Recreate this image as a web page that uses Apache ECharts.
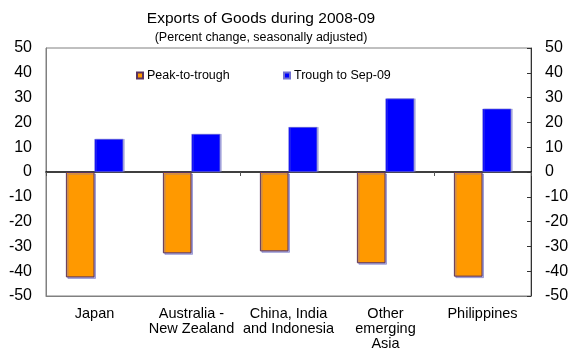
<!DOCTYPE html>
<html><head><meta charset="utf-8">
<script src="https://cdn.jsdelivr.net/npm/echarts@6/dist/echarts.min.js"></script>
<style>html,body{margin:0;padding:0;background:#fff}#c{width:572px;height:360px}</style>
</head><body><div id="c"></div>
<script>
const categories = ['Japan', 'Australia -\nNew Zealand', 'China, India\nand Indonesia', 'Other\nemerging\nAsia', 'Philippines'];
const peakToTrough = [-42.5, -32.8, -32.0, -36.8, -42.2];
const troughToSep09 = [13.3, 15.3, 18.1, 29.6, 25.5];
const yMin = -50, yMax = 50, yStep = 10;

const FONT = 'Liberation Sans, Arial, sans-serif';
const chart = echarts.init(document.getElementById('c'), null, {renderer: 'canvas'});
const yAxisBase = {
  type: 'value', min: yMin, max: yMax, interval: yStep,
  splitLine: {show: false},
  axisLabel: {color: '#000', fontSize: 16, fontFamily: FONT, margin: 14}
};
chart.setOption({
  animation: false,
  backgroundColor: '#fff',
  title: [
    {text: 'Exports of Goods during 2008-09', left: 256, top: 6, textAlign: 'center',
     textStyle: {fontSize: 15.5, fontWeight: 'normal', color: '#000', fontFamily: FONT}},
    {text: '(Percent change, seasonally adjusted)', left: 256, top: 26, textAlign: 'center',
     textStyle: {fontSize: 12.5, fontWeight: 'normal', color: '#000', fontFamily: FONT}}
  ],
  legend: [
    {data: ['Peak-to-trough'], left: 131, top: 64, itemWidth: 6, itemHeight: 6, itemGap: 5, icon: 'rect',
     textStyle: {fontSize: 12.5, color: '#000', fontFamily: FONT, padding: [0, 0, 0, -1]}},
    {data: ['Trough to Sep-09'], left: 278, top: 64, itemWidth: 6, itemHeight: 6, itemGap: 5, icon: 'rect',
     textStyle: {fontSize: 12.5, color: '#000', fontFamily: FONT, padding: [0, 0, 0, -1]}}
  ],
  grid: {left: 46, right: 41, top: 48, bottom: 64, show: true, borderColor: '#808080', borderWidth: 1},
  xAxis: [
    {type: 'category', data: categories, position: 'bottom',
     axisLine: {onZero: false, lineStyle: {color: '#808080'}},
     axisTick: {show: false},
     axisLabel: {color: '#000', fontSize: 14.5, fontFamily: FONT, margin: 10, lineHeight: 15, interval: 0}},
    {type: 'category', data: categories, position: 'top',
     axisLine: {onZero: true, lineStyle: {color: '#000', width: 1.5}},
     axisTick: {show: true, inside: true, length: 4, lineStyle: {color: '#555', width: 1}},
     axisLabel: {show: false}}
  ],
  yAxis: [
    Object.assign({}, yAxisBase, {position: 'left', axisLine: {show: true, lineStyle: {color: '#808080'}}, axisTick: {show: false}}),
    Object.assign({}, yAxisBase, {position: 'right', axisLine: {show: true, lineStyle: {color: '#333'}},
      axisTick: {show: true, inside: true, length: 4, lineStyle: {color: '#333'}}})
  ],
  series: [
    {name: 'Peak-to-trough', type: 'bar', data: peakToTrough, xAxisIndex: 0, yAxisIndex: 0,
     barGap: '0%', barCategoryGap: '41%',
     itemStyle: {color: '#FF9900', borderColor: '#5a3360', borderWidth: 1,
       shadowColor: 'rgba(120,120,200,0.6)', shadowOffsetX: 1.5, shadowOffsetY: 1.5, shadowBlur: 0}},
    {name: 'Trough to Sep-09', type: 'bar', data: troughToSep09, xAxisIndex: 0, yAxisIndex: 0,
     barGap: '0%', barCategoryGap: '41%',
     itemStyle: {color: '#0000FF', borderColor: '#7070d0', borderWidth: 0.5,
       shadowColor: 'rgba(120,120,200,0.6)', shadowOffsetX: 1.5, shadowOffsetY: 0, shadowBlur: 0}}
  ]
});
</script></body></html>
